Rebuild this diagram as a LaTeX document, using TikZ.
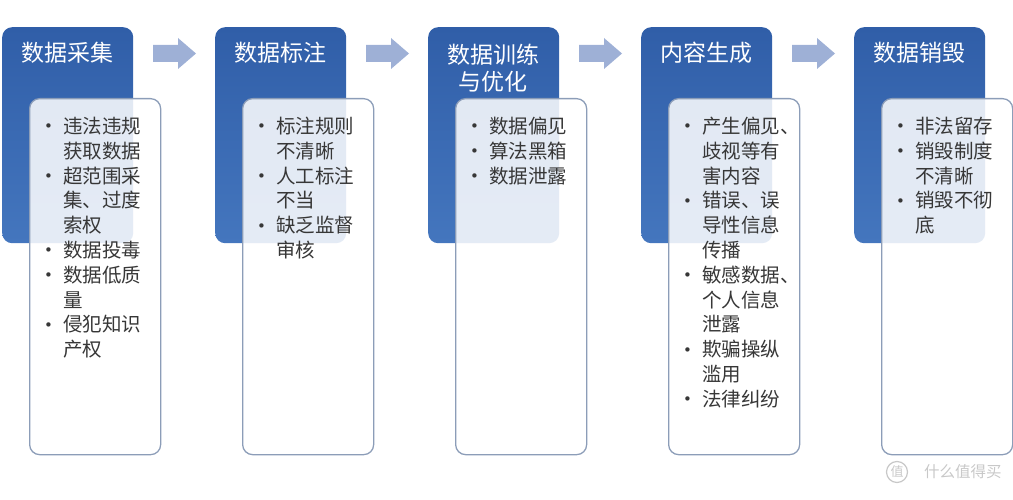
\documentclass[tikz,border=0pt]{standalone}
\usepackage{fontspec}
\setmainfont{Noto Sans CJK SC}
\newfontfamily\dejavu{DejaVu Sans}
\usepackage{array}
\definecolor{hdrtop}{RGB}{48,94,168}
\definecolor{hdrbot}{RGB}{68,118,190}
\definecolor{boxline}{RGB}{140,157,184}
\definecolor{arrowc}{RGB}{158,176,214}
\definecolor{txt}{RGB}{55,55,55}
\definecolor{wm}{RGB}{200,200,200}
\newcommand\bul{\hspace{1pt}\raisebox{1.5pt}{\dejavu\fontsize{15}{15}\selectfont •}}
\newcommand\lst[1]{\begin{tabular}[t]{@{}p{20pt}@{}l@{}}#1\end{tabular}}
\tikzset{
  hdrbox/.style={rectangle, rounded corners=10pt, top color=hdrtop, bottom color=hdrbot,
    draw=none, minimum width=131pt, minimum height=216pt, anchor=north west, inner sep=0},
  hdrtext/.style={text=white, align=center, font=\fontsize{23}{27}\selectfont, inner sep=0},
  bodybox/.style={rectangle, rounded corners=10pt, fill=white, fill opacity=0.86,
    draw=boxline, line width=1.3pt, minimum width=131pt, minimum height=356pt,
    anchor=north west, inner sep=0},
  bodytext/.style={text=txt, anchor=base west, inner sep=0, font=\fontsize{19.5}{24.8}\selectfont},
  arrowfill/.style={fill=arrowc},
  wmark/.style={text=wm, inner sep=0}
}
\begin{document}
\begin{tikzpicture}[x=1pt,y=-1pt]
\useasboundingbox (0,0) rectangle (1013,500);
% header boxes
\foreach \i/\x in {1/2,2/215,3/428,4/641,5/854}{
  \node[hdrbox] (h\i) at (\x,27) {};
}
\node[hdrtext] (t1) at (67,53) {数据采集};
\node[hdrtext] (t2) at (280,53) {数据标注};
\node[hdrtext] (t3) at (493,68) {数据训练\\与优化};
\node[hdrtext] (t4) at (706,53) {内容生成};
\node[hdrtext] (t5) at (919,53) {数据销毁};
% arrows
\foreach \i/\x in {1/2,2/215,3/428,4/641}{
  \fill[arrowfill] (\x+151,45) -- (\x+176,45) -- (\x+176,38) -- (\x+194,53.5)
     -- (\x+176,69) -- (\x+176,62) -- (\x+151,62) -- cycle;
}
% body boxes
\foreach \i/\x in {1/2,2/215,3/428,4/641,5/854}{
  \node[bodybox] (b\i) at (\x+27,98) {};
}
% lists
\node[bodytext] (l1) at (43,133.5) {\lst{\bul & 违法违规\\ & 获取数据\\ \bul & 超范围采\\ & 集、过度\\ & 索权\\ \bul & 数据投毒\\ \bul & 数据低质\\ & 量\\ \bul & 侵犯知识\\ & 产权}};
\node[bodytext] (l2) at (256,133.5) {\lst{\bul & 标注规则\\ & 不清晰\\ \bul & 人工标注\\ & 不当\\ \bul & 缺乏监督\\ & 审核}};
\node[bodytext] (l3) at (469,133.5) {\lst{\bul & 数据偏见\\ \bul & 算法黑箱\\ \bul & 数据泄露}};
\node[bodytext] (l4) at (682,133.5) {\lst{\bul & 产生偏见、\\ & 歧视等有\\ & 害内容\\ \bul & 错误、误\\ & 导性信息\\ & 传播\\ \bul & 敏感数据、\\ & 个人信息\\ & 泄露\\ \bul & 欺骗操纵\\ & 滥用\\ \bul & 法律纠纷}};
\node[bodytext] (l5) at (895,133.5) {\lst{\bul & 非法留存\\ \bul & 销毁制度\\ & 不清晰\\ \bul & 销毁不彻\\ & 底}};
% watermark
\node[wmark, circle, draw=wm, line width=1.2pt, minimum size=21pt, font=\fontsize{13}{13}\selectfont] (wm1) at (897,472) {值};
\node[wmark, anchor=west, font=\fontsize{15.5}{15.5}\selectfont] (wm2) at (924,472) {什么值得买};
\end{tikzpicture}
\end{document}
